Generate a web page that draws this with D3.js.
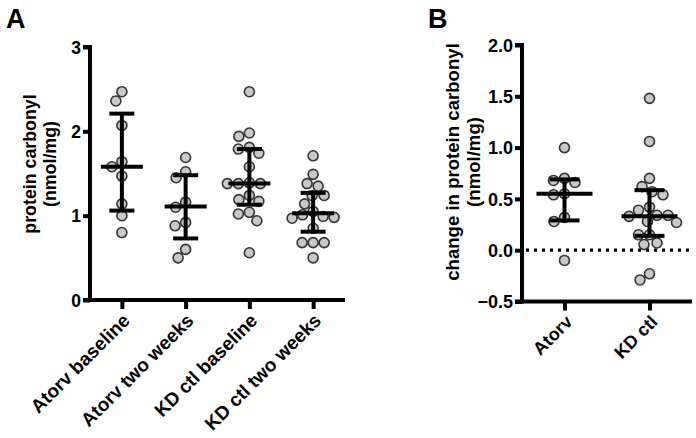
<!DOCTYPE html>
<html><head><meta charset="utf-8">
<script src="https://cdn.jsdelivr.net/npm/d3@7/dist/d3.min.js"></script>
<style>body{margin:0;background:#fff}svg{display:block}text{font-family:Arial,"Liberation Sans",sans-serif;font-weight:bold;fill:#000}</style>
</head><body><svg id="c" width="696" height="438"></svg>
<script>
// ---- data ----
const catsA = ["Atorv baseline","Atorv two weeks","KD ctl baseline","KD ctl two weeks"];
const atorvBase = [2.47,2.36,2.07,1.64,1.58,1.47,1.14,1.00,0.80];
const atorvTwo = [1.69,1.52,1.45,1.16,1.10,0.92,0.88,0.60,0.50];
const kdBase = [2.47,1.98,1.94,1.81,1.79,1.74,1.58,1.39,1.38,1.38,1.38,1.24,1.19,1.17,1.04,1.02,0.94,0.56];
const kdTwo = [1.71,1.49,1.38,1.35,1.24,1.24,1.14,1.05,1.01,0.99,0.98,0.97,0.85,0.68,0.68,0.68,0.50];
const centerA = [1.58,1.11,1.38,1.03];
const lowA = [1.06,0.73,1.13,0.81];
const highA = [2.21,1.48,1.79,1.27];
const ticksA = [0,1,2,3];

const catsB = ["Atorv","KD ctl"];
const atorvChange = [1.00,0.70,0.68,0.66,0.55,0.54,0.32,0.28,-0.10];
const kdChange = [1.48,1.06,0.70,0.62,0.57,0.54,0.42,0.39,0.34,0.34,0.33,0.28,0.27,0.15,0.15,0.07,0.055,-0.23,-0.29];
const centerB = [0.55,0.33];
const lowB = [0.29,0.14];
const highB = [0.69,0.585];
const ticksB = [-0.5,0.0,0.5,1.0,1.5,2.0];

const svg = d3.select("#c");
const R = 5;

function swarm(vals, y) {
  const placed = [];
  const out = [];
  const sorted = vals.slice().sort((a,b)=>b-a);
  const minD = 2*R + 1;
  sorted.forEach(v => {
    const py = y(v);
    let best = null;
    for (let k = 0; k < 400; k++) {
      const cands = k===0 ? [0] : [-k*0.5, k*0.5];
      for (const dx of cands) {
        if (placed.every(p => Math.hypot(p.dx-dx, p.y-py) >= minD)) { best = dx; break; }
      }
      if (best !== null) break;
    }
    placed.push({dx:best, y:py});
    out.push({v, dx:best});
  });
  return out;
}

function panel(cfg) {
  const g = svg.append("g");
  const x = d3.scalePoint().domain(cfg.cats).range(cfg.xr).padding(0.5);
  const y = d3.scaleLinear().domain(cfg.yd).range(cfg.yr);
  const ya = d3.axisLeft(y).tickValues(cfg.ticks).tickFormat(cfg.fmt).tickSize(7).tickPadding(2);
  const gy = g.append("g").attr("transform",`translate(${cfg.xr[0]},0)`).call(ya);
  gy.select(".domain").attr("stroke","#000").attr("stroke-width",4).attr("d",`M-7,${cfg.yr[0]}H0V${cfg.yr[1]}H-7`).attr("stroke-linejoin","miter");
  gy.selectAll(".tick line").attr("stroke","#000").attr("stroke-width",4);
  gy.selectAll(".tick text").style("font-size",cfg.tickFs+"px").attr("dy","0.35em");
  const xa = d3.axisBottom(x).tickSize(9).tickSizeOuter(0).tickFormat(d=>d);
  const gx = g.append("g").attr("transform",`translate(0,${cfg.yr[0]})`).call(xa);
  gx.select(".domain").attr("stroke","#000").attr("stroke-width",4).attr("d",`M${cfg.xr[0]-2},0H${cfg.xr[1]}`);
  gx.selectAll(".tick line").attr("stroke","#000").attr("stroke-width",4);
  gx.selectAll(".tick text").style("font-size",cfg.xFs+"px")
    .attr("text-anchor","end").attr("dy","0.35em")
    .attr("transform","translate(4,17) rotate(-45)").attr("y",0).attr("x",0);
  if (cfg.zero) {
    g.append("line").attr("x1",cfg.xr[0]+4).attr("x2",cfg.xr[1]).attr("y1",y(0)).attr("y2",y(0))
      .attr("stroke","#000").attr("stroke-width",3.2).attr("stroke-dasharray","3,5");
  }
  cfg.cats.forEach((c,i) => {
    const cx = x(c);
    const pts = swarm(cfg.series[i], y);
    g.selectAll(null).data(pts).enter().append("circle")
      .attr("cx",d=>cx+d.dx).attr("cy",d=>y(d.v)).attr("r",R)
      .attr("fill","#c8c8c8").attr("stroke","#333").attr("stroke-width",1.6);
    const s = "#000", w = 4;
    g.append("line").attr("x1",cx).attr("x2",cx).attr("y1",y(cfg.lo[i])).attr("y2",y(cfg.hi[i])).attr("stroke",s).attr("stroke-width",w);
    [cfg.lo[i],cfg.hi[i]].forEach(v => g.append("line").attr("x1",cx-cfg.capW/2).attr("x2",cx+cfg.capW/2).attr("y1",y(v)).attr("y2",y(v)).attr("stroke",s).attr("stroke-width",w));
    g.append("line").attr("x1",cx-cfg.meanW/2).attr("x2",cx+cfg.meanW/2).attr("y1",y(cfg.mid[i])).attr("y2",y(cfg.mid[i])).attr("stroke",s).attr("stroke-width",w);
  });
  const lab = g.append("text").attr("transform",`translate(${cfg.labX},${cfg.labY}) rotate(-90)`).attr("text-anchor","middle").style("font-size",cfg.labFs+"px");
  lab.append("tspan").attr("x",0).attr("dy",0).text(cfg.lab1);
  lab.append("tspan").attr("x",0).attr("dy","1.15em").text("(nmol/mg)");
  g.append("text").attr("x",cfg.letX).attr("y",28).style("font-size","27px").text(cfg.letter);
}

panel({cats:catsA, xr:[90,345], yd:[0,3], yr:[300,47], ticks:ticksA, fmt:d3.format("d"),
  series:[atorvBase,atorvTwo,kdBase,kdTwo], mid:centerA, lo:lowA, hi:highA,
  capW:25, meanW:42, labX:36, labY:164, lab1:"protein carbonyl", letter:"A", letX:6,
  tickFs:17.5, xFs:19, labFs:17.8});
panel({cats:catsB, xr:[522,692], yd:[-0.5,2], yr:[301.5,45], ticks:ticksB, fmt:d3.format(".1f"),
  series:[atorvChange,kdChange], mid:centerB, lo:lowB, hi:highB,
  capW:30, meanW:56, labX:459, labY:162, lab1:"change in protein carbonyl", letter:"B", letX:428, zero:true,
  tickFs:18, xFs:18, labFs:18.6});
</script></body></html>
